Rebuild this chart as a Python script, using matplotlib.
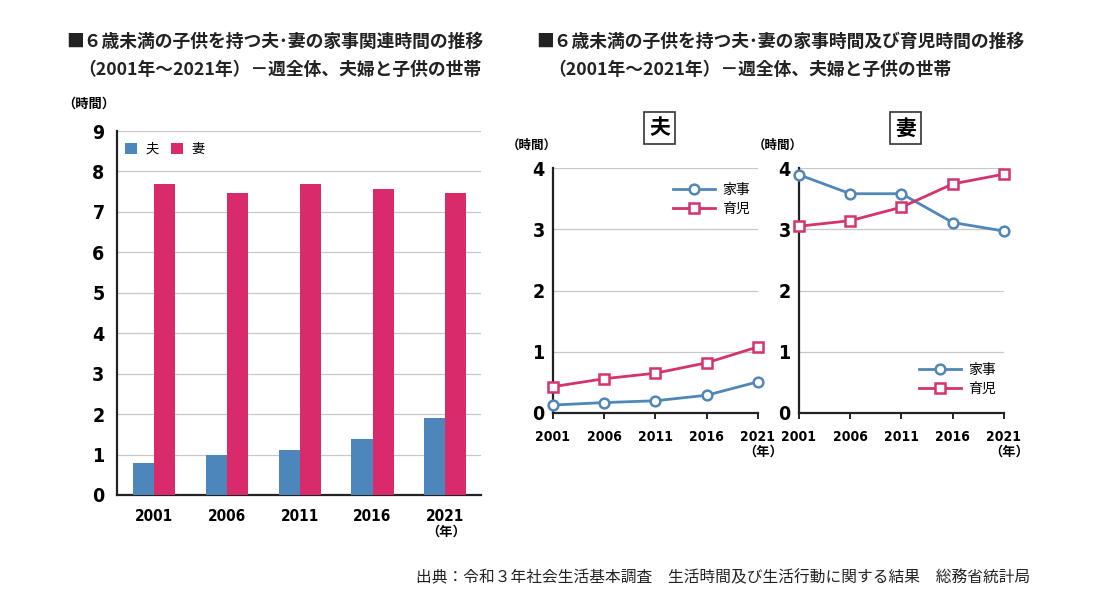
import numpy as np
import matplotlib
matplotlib.use('Agg')
import matplotlib.pyplot as plt

plt.rcParams['font.family'] = ['Noto Sans CJK JP', 'DejaVu Sans']

years = ['2001', '2006', '2011', '2016', '2021']
yrs = [2001, 2006, 2011, 2016, 2021]
# 家事関連時間 (hours)
bar_husband = [0.80, 1.00, 1.12, 1.38, 1.90]
bar_wife = [7.68, 7.47, 7.68, 7.57, 7.47]
# 夫: 家事 / 育児
h_housework = [0.13, 0.17, 0.20, 0.29, 0.51]
h_childcare = [0.43, 0.56, 0.65, 0.82, 1.08]
# 妻: 家事 / 育児
w_housework = [3.89, 3.58, 3.58, 3.11, 2.97]
w_childcare = [3.05, 3.14, 3.36, 3.74, 3.90]

BLUE = '#4d86bb'
PINK = '#d92b6c'
LBLUE = '#5087b8'
LPINK = '#d5336e'
GRID = '#c8c8c8'
NUM = dict(family='DejaVu Sans', fontweight='bold', fontstretch='condensed')

W, H = 1110, 604
fig = plt.figure(figsize=(W / 100, H / 100), dpi=100)

def ax_at(l, t, r, b):
    return fig.add_axes([l / W, 1 - b / H, (r - l) / W, (b - t) / H])

# titles
tkw = dict(fontsize=12.8, fontweight='bold', va='center', ha='left', color='#222222')
fig.text(66 / W, 1 - 42 / H, '■６歳未満の子供を持つ夫･妻の家事関連時間の推移', **tkw)
fig.text(78 / W, 1 - 70 / H, '（2001年～2021年）－週全体、夫婦と子供の世帯', **tkw)
fig.text(536 / W, 1 - 42 / H, '■６歳未満の子供を持つ夫･妻の家事時間及び育児時間の推移', **tkw)
fig.text(548 / W, 1 - 70 / H, '（2001年～2021年）－週全体、夫婦と子供の世帯', **tkw)

# ---- bar chart ----
ax = ax_at(117, 131, 481, 495)
x = np.arange(len(years))
bw = 0.29
ax.bar(x - bw / 2, bar_husband, bw, color=BLUE, label='夫', zorder=3)
ax.bar(x + bw / 2, bar_wife, bw, color=PINK, label='妻', zorder=3)
ax.set_xlim(-0.51, 4.49)
ax.set_ylim(0, 9)
ax.set_yticks(range(10))
ax.yaxis.grid(True, color=GRID, linewidth=0.9, zorder=0)
ax.set_xticks(x)
ax.set_xticklabels(years)
for s in ['top', 'right']:
    ax.spines[s].set_visible(False)
for s in ['left', 'bottom']:
    ax.spines[s].set_linewidth(1.6)
    ax.spines[s].set_color('#222222')
ax.tick_params(axis='y', length=0, pad=9, labelsize=14)
ax.tick_params(axis='x', length=0, pad=10, labelsize=11)
for t in ax.get_yticklabels():
    t.set(**NUM)
for t in ax.get_xticklabels():
    t.set(**NUM)
ax.legend(loc='upper left', ncol=2, frameon=False, fontsize=9.5, handlelength=0.9,
          handleheight=0.9, columnspacing=1.0, handletextpad=0.6,
          bbox_to_anchor=(-0.01, 1.0))
fig.text(89 / W, 1 - 104 / H, '（時間）', fontsize=9.5, fontweight='bold',
         ha='center', va='center')
fig.text(446 / W, 1 - 532 / H, '（年）', fontsize=9.5, fontweight='bold',
         ha='center', va='center')

# ---- line charts ----
def line_panel(l, r, hw, cc, title, legend_loc):
    a = ax_at(l, 168, r, 413)
    a.plot(yrs, hw, color=LBLUE, lw=2, marker='o', ms=7, mfc='white',
           mec=LBLUE, mew=1.8, label='家事', clip_on=False, zorder=4)
    a.plot(yrs, cc, color=LPINK, lw=2, marker='s', ms=7, mfc='white',
           mec=LPINK, mew=1.8, label='育児', clip_on=False, zorder=4)
    a.set_xlim(2001, 2021)
    a.set_ylim(0, 4)
    a.set_yticks(range(5))
    a.set_xticks(yrs)
    a.set_xticklabels(years)
    a.yaxis.grid(True, color=GRID, linewidth=0.9, zorder=0)
    for s in ['top', 'right']:
        a.spines[s].set_visible(False)
    for s in ['left', 'bottom']:
        a.spines[s].set_linewidth(1.6)
        a.spines[s].set_color('#222222')
    a.tick_params(axis='y', length=0, pad=6, labelsize=14)
    a.tick_params(axis='x', length=4, width=1.2, direction='out', pad=8,
                  labelsize=10)
    for t in a.get_yticklabels():
        t.set(**NUM)
    for t in a.get_xticklabels():
        t.set(**NUM)
    a.legend(loc=legend_loc, frameon=False, fontsize=10, handlelength=3.0,
             handletextpad=0.5, labelspacing=0.35,
             bbox_to_anchor=(1.02, 0.99) if legend_loc == 'upper right' else (1.02, 0.02))
    cx = (l + r) / 2 + 4
    fig.text(cx / W, 1 - 128 / H, title, fontsize=15, fontweight='bold',
             ha='center', va='center',
             bbox=dict(boxstyle='square,pad=0.25', fc='white', ec='#333333', lw=1.2))
    fig.text((l - 21) / W, 1 - 145 / H, '（時間）', fontsize=9, fontweight='bold',
             ha='center', va='center')
    fig.text((r + 5) / W, 1 - 452 / H, '（年）', fontsize=9.5, fontweight='bold',
             ha='center', va='center')
    return a

line_panel(553, 758, h_housework, h_childcare, '夫', 'upper right')
line_panel(799, 1004, w_housework, w_childcare, '妻', 'lower right')

fig.text(1030 / W, 1 - 578 / H,
         '出典：令和３年社会生活基本調査　生活時間及び生活行動に関する結果　総務省統計局',
         fontsize=11.3, ha='right', va='center', color='#222222')

fig.savefig('out.png', dpi=100, facecolor='white')
